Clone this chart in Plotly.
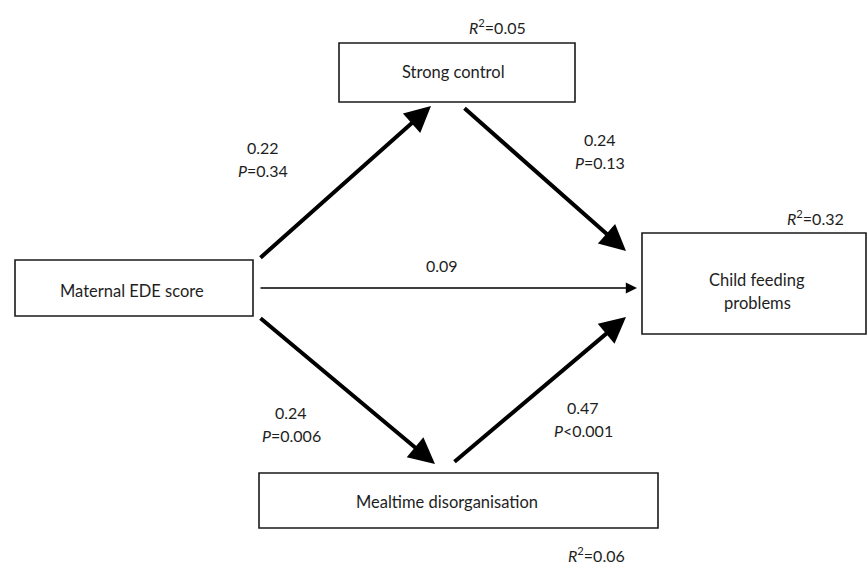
import plotly.graph_objects as go

# ---- data ----
node_names = ["Maternal EDE score", "Strong control", "Mealtime disorganisation", "Child feeding<br>problems"]
node_r2 = [None, 0.05, 0.06, 0.32]

path_from = [0, 1, 0, 2, 0]
path_to = [1, 3, 2, 3, 3]
path_coef = [0.22, 0.24, 0.24, 0.47, 0.09]
path_p = ["=0.34", "=0.13", "=0.006", "<0.001", None]

# ---- layout geometry (pixel-like coordinates) ----
W, H = 867, 565
boxes = [(15, 260, 253, 316), (339, 43, 575, 102), (259, 473, 658, 528), (642, 233, 866, 334)]
text_pos = [(132, 291), (453, 72), (447, 502), (757, 291)]
r2_pos = [None, (497, 26), (596, 554), (815, 217)]
arrow_pts = [((259, 259), (431, 106)),
             ((463, 107), (626, 251)),
             ((259, 317), (435, 464)),
             ((453, 463), (626, 317)),
             ((259, 288), (637, 288))]
arrow_w = [4, 4, 4, 4, 1.4]
arrow_sz = [1.3, 1.3, 1.3, 1.3, 1.6]
label_pos = [(263, 147), (600, 139), (291, 412), (583, 407), (442, 265)]
LINE_GAP = 23

FONT = "Lato"
TXT = "#1e1e1e"
fig = go.Figure()
fig.add_trace(go.Scatter(x=[0, W], y=[0, H], mode="markers", marker=dict(opacity=0), hoverinfo="skip", showlegend=False))

shapes = []
annotations = []
for i, name in enumerate(node_names):
    x0, y0, x1, y1 = boxes[i]
    shapes.append(dict(type="rect", xref="x", yref="y", x0=x0, y0=y0, x1=x1, y1=y1,
                       line=dict(color="#1a1a1a", width=1.6), fillcolor="white", layer="below"))
    lines = name.split("<br>")
    cx, cy = text_pos[i]
    cy = cy - (len(lines) - 1) * LINE_GAP / 2
    for j, ln in enumerate(lines):
        annotations.append(dict(x=cx, y=cy + j * LINE_GAP, xref="x", yref="y", text=ln,
                                showarrow=False, font=dict(family=FONT, size=16.5, color=TXT)))
    if node_r2[i] is not None:
        rx, ry = r2_pos[i]
        annotations.append(dict(x=rx, y=ry, xref="x", yref="y",
                                text=f"<i>R</i><sup>2</sup>={node_r2[i]:.2f}",
                                showarrow=False, font=dict(family=FONT, size=16, color=TXT)))

for k in range(len(path_from)):
    (tx, ty), (hx, hy) = arrow_pts[k]
    annotations.append(dict(x=hx, y=hy, ax=tx, ay=ty, xref="x", yref="y", axref="x", ayref="y",
                            text="", showarrow=True, arrowhead=2, arrowsize=arrow_sz[k],
                            arrowwidth=arrow_w[k], arrowcolor="black", standoff=0))
    lx, ly = label_pos[k]
    annotations.append(dict(x=lx, y=ly, xref="x", yref="y", text=f"{path_coef[k]:.2f}", showarrow=False,
                            font=dict(family=FONT, size=16, color=TXT)))
    if path_p[k] is not None:
        annotations.append(dict(x=lx, y=ly + LINE_GAP, xref="x", yref="y", text=f"<i>P</i>{path_p[k]}",
                                showarrow=False, font=dict(family=FONT, size=16, color=TXT)))

fig.update_layout(
    width=W, height=H, margin=dict(l=0, r=0, t=0, b=0),
    plot_bgcolor="white", paper_bgcolor="white",
    xaxis=dict(range=[0, W], visible=False, fixedrange=True),
    yaxis=dict(range=[H, 0], visible=False, fixedrange=True),
    shapes=shapes, annotations=annotations, showlegend=False,
)
fig.write_html("out.html", config={"displayModeBar": False},
               post_script="document.body.style.margin='0';document.body.style.overflow='hidden';")
